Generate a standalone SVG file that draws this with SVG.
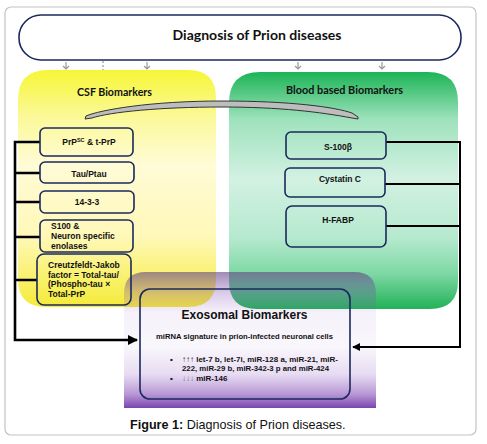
<svg xmlns="http://www.w3.org/2000/svg" width="487" height="444" viewBox="0 0 487 444">
<defs>
<linearGradient id="gY" x1="0" y1="70" x2="0" y2="308" gradientUnits="userSpaceOnUse">
<stop offset="0" stop-color="#f6f636"/>
<stop offset="0.2" stop-color="#fbf99a"/>
<stop offset="0.4" stop-color="#fffbd6"/>
<stop offset="0.7" stop-color="#fff8b8"/>
<stop offset="0.9" stop-color="#f8f060"/>
<stop offset="1" stop-color="#f4ea38"/>
</linearGradient>
<linearGradient id="gG" x1="0" y1="72" x2="0" y2="309" gradientUnits="userSpaceOnUse">
<stop offset="0" stop-color="#1cb456"/>
<stop offset="0.2" stop-color="#9fe2bd"/>
<stop offset="0.45" stop-color="#d2f1e2"/>
<stop offset="0.7" stop-color="#b6e9cf"/>
<stop offset="0.85" stop-color="#7ed8a4"/>
<stop offset="1" stop-color="#22b258"/>
</linearGradient>
<linearGradient id="gP" x1="0" y1="272" x2="0" y2="408" gradientUnits="userSpaceOnUse">
<stop offset="0" stop-color="#5e3f80" stop-opacity="0.6"/>
<stop offset="0.15" stop-color="#7a40b0" stop-opacity="0.28"/>
<stop offset="0.3" stop-color="#8a50c0" stop-opacity="0.08"/>
<stop offset="0.55" stop-color="#8a50c0" stop-opacity="0.05"/>
<stop offset="0.75" stop-color="#8a50c0" stop-opacity="0.2"/>
<stop offset="0.9" stop-color="#7a40b0" stop-opacity="0.55"/>
<stop offset="1" stop-color="#6e34a8" stop-opacity="0.92"/>
</linearGradient>
<marker id="ah" viewBox="0 0 10 10" refX="9" refY="5" markerWidth="4" markerHeight="4" orient="auto" markerUnits="strokeWidth">
<path d="M0,0 L10,5 L0,10 Z" fill="#000"/>
</marker>
<style>
.box{fill:none;stroke:#1b2a5c;stroke-width:1.6}
.bt{font-family:"Liberation Sans",Arial,sans-serif;font-weight:bold;font-size:8.5px;fill:#111}
.hd{font-family:Lato,"Liberation Sans",sans-serif;font-weight:bold;fill:#111}
.cn{fill:none;stroke:#000;stroke-linejoin:miter}
.sm{stroke:#999;stroke-width:1.2;fill:none}
</style>
</defs>
<rect x="5" y="7" width="471" height="428" rx="6" fill="#fff" stroke="#c4c4c4" stroke-width="1.2"/>

<g id="title">
<rect x="19" y="15" width="442" height="45" rx="22" fill="#fff" stroke="#1b2a5c" stroke-width="1.6"/>
<text class="hd" x="257" y="40" font-size="14" text-anchor="middle" textLength="169" lengthAdjust="spacingAndGlyphs">Diagnosis of Prion diseases</text>
</g>

<g id="small-arrows">
<path class="sm" d="M66,62 V69 M63,66 L66,69 L69,66"/>
<path class="sm" d="M103,61 V71" stroke-dasharray="2,2"/>
<path class="sm" d="M147,62 V69 M144,66 L147,69 L150,66"/>
<path class="sm" d="M298,62 V69 M295,66 L298,69 L301,66"/>
<path class="sm" d="M382,62 V69 M379,66 L382,69 L385,66"/>
</g>

<g id="csf-region">
<path d="M48,70 H188 Q216,70 216,98 V279 Q216,307 188,307 H46 Q18,307 18,279 V100 Q18,70 48,70 Z" fill="url(#gY)"/>
<text class="hd" x="114.5" y="96" font-size="10.5" text-anchor="middle" textLength="75" lengthAdjust="spacingAndGlyphs">CSF Biomarkers</text>
</g>

<g id="blood-region">
<path d="M260,72 H428 Q458,72 458,102 V281 Q458,309 430,309 H257 Q229,309 229,281 V103 Q229,72 260,72 Z" fill="url(#gG)"/>
<text class="hd" x="344.5" y="94" font-size="10.5" text-anchor="middle" textLength="117" lengthAdjust="spacingAndGlyphs">Blood based Biomarkers</text>
</g>

<g id="exosomal-region">
<path d="M146,272 H354 Q376,272 376,294 V408 H124 V294 Q124,272 146,272 Z" fill="url(#gP)"/>
</g>

<g id="band">
<path d="M85,119 L86,116 C100,110 150,101 222,101 C290,101 335,107 352,113 L358,117 L358,119 L352,118 C320,112 280,107 222,107 C160,107 110,112 92,118 Z" fill="#bdbdbd" stroke="#333" stroke-width="1"/>
</g>

<g id="connectors">
<path class="cn" stroke-width="2.6" d="M40,142 H15 V340 H137" marker-end="url(#ah)"/>
<path class="cn" stroke-width="2.6" d="M15,173 H40 M15,202 H40 M15,237 H40 M15,280 H37"/>
<path class="cn" stroke-width="2" d="M386,142 H460 V347 H353" marker-end="url(#ah)"/>
<path class="cn" stroke-width="2" d="M385,184 H460 M386,226 H460"/>
</g>

<g id="n-prp">
<rect class="box" x="40" y="128" width="93" height="28" rx="5"/>
<text class="bt" x="89" y="145" text-anchor="middle">PrP<tspan font-size="5.5" dy="-3">SC</tspan><tspan dy="3"> &amp; t-PrP</tspan></text>
</g>
<g id="n-tau">
<rect class="box" x="40" y="162" width="94" height="21" rx="5"/>
<text class="bt" x="89" y="177" text-anchor="middle">Tau/Ptau</text>
</g>
<g id="n-1433">
<rect class="box" x="40" y="191" width="94" height="22" rx="5"/>
<text class="bt" x="87" y="205" text-anchor="middle">14-3-3</text>
</g>
<g id="n-s100">
<rect class="box" x="40" y="220" width="93" height="32" rx="5"/>
<text class="bt" x="51" y="229">S100 &amp;</text>
<text class="bt" x="51" y="239">Neuron specific</text>
<text class="bt" x="51" y="249">enolases</text>
</g>
<g id="n-cj">
<rect class="box" x="37" y="254" width="94" height="51" rx="7"/>
<text class="bt" x="48" y="268">Creutzfeldt-Jakob</text>
<text class="bt" x="48" y="277.5">factor = Total-tau/</text>
<text class="bt" x="48" y="287">(Phospho-tau ×</text>
<text class="bt" x="48" y="297">Total-PrP</text>
</g>

<g id="n-s100b">
<rect class="box" x="286" y="132" width="100" height="27" rx="5"/>
<text class="bt" x="338" y="150" text-anchor="middle">S-100β</text>
</g>
<g id="n-cys">
<rect class="box" x="285" y="168" width="100" height="29" rx="5"/>
<text class="bt" x="340" y="182" text-anchor="middle">Cystatin C</text>
</g>
<g id="n-hfabp">
<rect class="box" x="286" y="206" width="100" height="41" rx="6"/>
<text class="bt" x="338" y="223" text-anchor="middle">H-FABP</text>
</g>

<g id="n-exo">
<rect class="box" x="140" y="289" width="210" height="110" rx="10"/>
<text x="244.5" y="319" font-family="Liberation Sans,Arial,sans-serif" font-weight="bold" font-size="12" text-anchor="middle" fill="#111">Exosomal Biomarkers</text>
<text class="bt" x="156" y="339" textLength="177" lengthAdjust="spacingAndGlyphs" style="font-size:7px">miRNA  signature in prion-infected neuronal cells</text>
<text class="bt" x="170" y="362" style="font-size:8px">•</text>
<text class="bt" x="182" y="362" textLength="156" lengthAdjust="spacingAndGlyphs" style="font-size:8px"><tspan fill="#333">↑↑↑</tspan> let-7 b, let-7i, miR-128 a, miR-21, miR-</text>
<text class="bt" x="182" y="371" textLength="147" lengthAdjust="spacingAndGlyphs" style="font-size:8px">222, miR-29 b, miR-342-3 p and miR-424</text>
<text class="bt" x="170" y="381" style="font-size:8px">•</text>
<text class="bt" x="182" y="381" style="font-size:8px"><tspan fill="#777">↓↓↓</tspan> miR-146</text>
</g>

<text x="130" y="429" font-family="Liberation Sans,Arial,sans-serif" font-size="12.6" fill="#111"><tspan font-weight="bold">Figure 1:</tspan> Diagnosis of Prion diseases.</text>
</svg>
